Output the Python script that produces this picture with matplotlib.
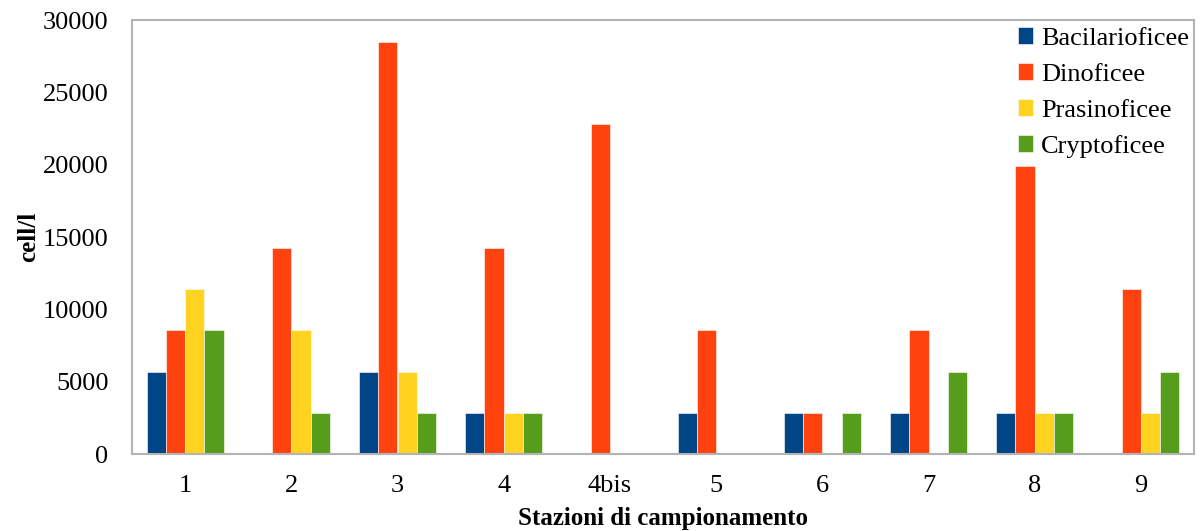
import matplotlib
matplotlib.use("Agg")
import matplotlib.pyplot as plt
import numpy as np

plt.rcParams['font.family'] = ['Liberation Serif', 'DejaVu Serif']

stations = ["1", "2", "3", "4", "4bis", "5", "6", "7", "8", "9"]
series_names = ["Bacilarioficee", "Dinoficee", "Prasinoficee", "Cryptoficee"]
bacilarioficee = [5700, 0, 5700, 2850, 0, 2850, 2850, 2850, 2850, 0]
dinoficee = [8550, 14250, 28500, 14250, 22800, 8550, 2850, 8550, 19950, 11400]
prasinoficee = [11400, 8550, 5700, 2850, 0, 0, 0, 0, 2850, 2850]
cryptoficee = [8550, 2850, 2850, 2850, 0, 0, 2850, 5700, 2850, 5700]
colors = ["#004586", "#ff420e", "#ffd320", "#579d1c"]

fig = plt.figure(figsize=(12, 5.31), dpi=100)
ax = fig.add_axes([0.11, 0.145, 0.885, 0.817])

x = np.arange(len(stations))
w = 0.181
data = [bacilarioficee, dinoficee, prasinoficee, cryptoficee]
for i, (vals, c, name) in enumerate(zip(data, colors, series_names)):
    ax.bar(x + (i - 1.5) * w, vals, width=w, color=c, label=name,
           edgecolor='white', linewidth=0.4)

ax.set_xlim(-0.5, len(stations) - 0.5)
ax.set_ylim(0, 30000)
ax.set_yticks(range(0, 30001, 5000))
ax.set_xticks(x)
ax.set_xticklabels(stations)
ax.tick_params(axis='both', length=0, labelsize=19)
ax.tick_params(axis='x', pad=15)
ax.tick_params(axis='y', pad=17)
for s in ax.spines.values():
    s.set_color('#b3b3b3')
    s.set_linewidth(1.5)

ax.set_ylabel("cell/l", fontsize=18, fontweight='bold', labelpad=2)
ax.set_xlabel("Stazioni di campionamento", fontsize=18, fontweight='bold', labelpad=7)

leg = ax.legend(loc='upper right', bbox_to_anchor=(1.0055, 1.008), frameon=False,
                fontsize=19, handlelength=0.6, handleheight=0.6,
                handletextpad=0.3, labelspacing=0.5, borderaxespad=0.0)

fig.savefig("out.png", dpi=100)
